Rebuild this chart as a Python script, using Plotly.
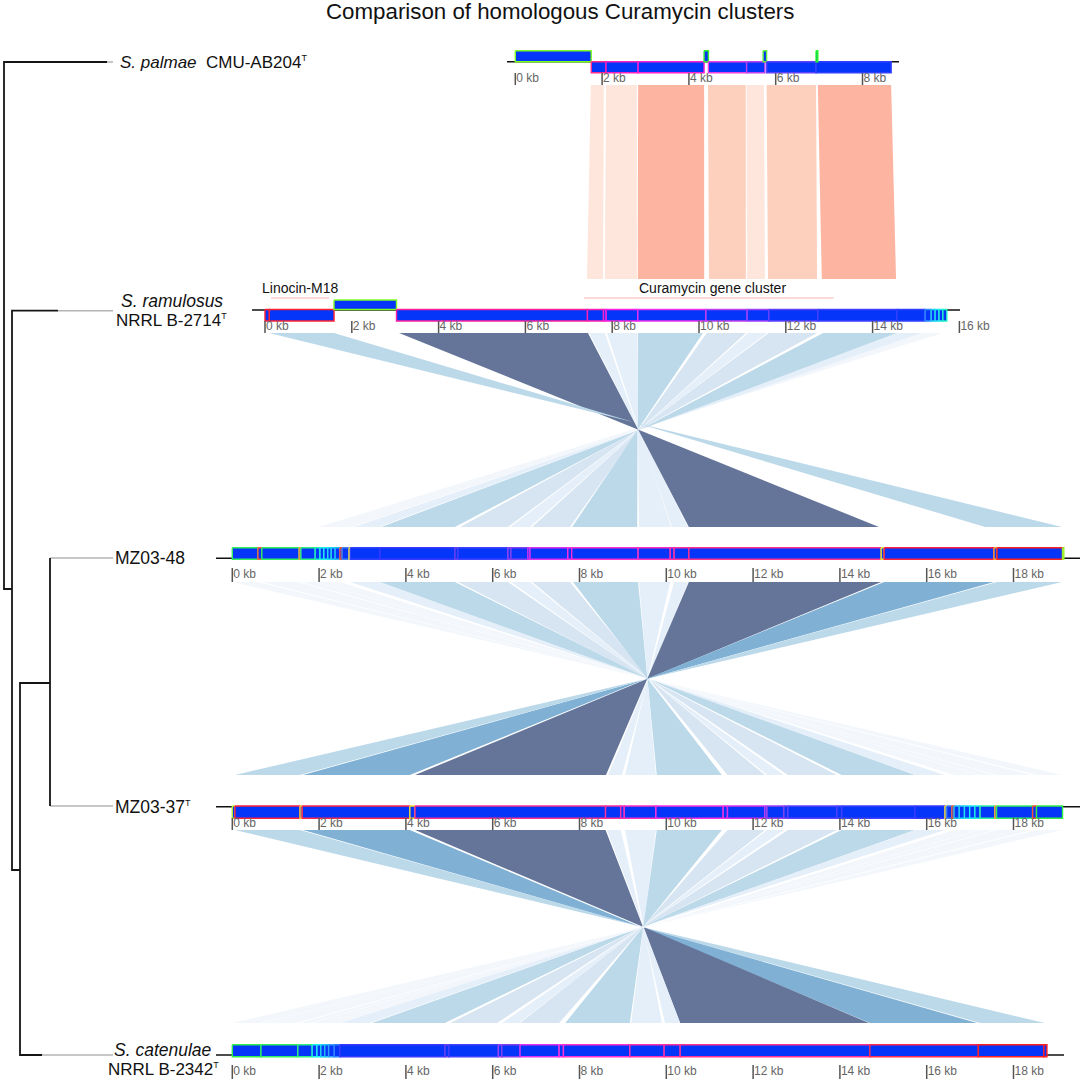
import plotly.graph_objects as go

FONT = "Liberation Sans"
KB_PX = 43.4
GENE_FILL = "#0535f8"

# genes, all in kb along each cluster
PALMAE_START = [0, 1.75, 2.09, 2.83, 4.35, 4.45, 5.33, 5.71, 5.79, 6.93, 6.93]
PALMAE_END = [1.75, 2.09, 2.83, 4.35, 4.45, 5.33, 5.75, 5.79, 6.93, 8.66, 6.97]
PALMAE_ROW = ["up", "down", "down", "down", "up", "down", "down", "up", "down", "down", "up"]
PALMAE_EDGE = ["#7dff20", "#ff2a90", "#ff20c0", "#ff20d0", "#30f030", "#f040e0", "#c040f0", "#60f040",
               "#6040ff", "#3040ff", "#20ff20"]

RAMULOSUS_START = [0, 0.10, 1.59, 3.03, 7.43, 7.80, 7.86, 8.59, 10.16, 11.11, 11.61, 12.74, 14.56,
                   15.21, 15.35, 15.44, 15.53, 15.62]
RAMULOSUS_END = [0.10, 1.59, 3.03, 7.43, 7.80, 7.86, 8.59, 10.16, 11.11, 11.61, 12.74, 14.56, 15.21,
                 15.35, 15.44, 15.53, 15.62, 15.71]
RAMULOSUS_ROW = ["down", "down", "up"] + ["down"] * 15
RAMULOSUS_EDGE = ["#ff2030", "#ff2030", "#7dff20", "#ff20a0", "#ff20b0", "#ff20d0", "#ff20e0", "#f030f0",
                  "#c040f0", "#a040ff", "#6040ff", "#4040ff", "#3040ff", "#3090ff", "#20d0f0", "#20e0f0",
                  "#20f0e0", "#20f0c0"]

MZ48_START = [0, 0.59, 0.68, 1.54, 1.58, 1.91, 2.02, 2.11, 2.20, 2.28, 2.37, 2.48, 2.53, 2.69, 2.72,
              3.40, 5.13, 5.20, 6.35, 6.42, 6.81, 6.86, 7.73, 7.82, 9.35, 10.09, 10.18, 10.52, 14.95,
              15.02, 17.55, 17.62, 19.13]
MZ48_END = [0.59, 0.68, 1.54, 1.58, 1.91, 2.02, 2.11, 2.20, 2.28, 2.37, 2.48, 2.53, 2.69, 2.72, 3.40,
            5.13, 5.20, 6.35, 6.42, 6.81, 6.86, 7.73, 7.82, 9.35, 10.09, 10.18, 10.52, 14.95, 15.02,
            17.55, 17.62, 19.13, 19.16]
MZ48_EDGE = ["#30f060", "#ff6030", "#30f060", "#ffa030", "#30f080", "#20f0c0", "#20f0e0", "#20f0f0", "#20e0f0",
             "#20d0f0", "#20c0f0", "#ff5030", "#4080f0", "#ffe030", "#3040ff", "#3838ff", "#7040f0", "#4040ff",
             "#a040f0", "#8040f0", "#d030f0", "#e030f0", "#ff30e0", "#ff30d0", "#ff30c0", "#ff30b0", "#ff30a0",
             "#ff3090", "#e0f030", "#ff2040", "#ffa030", "#ff2020", "#a0f030"]

MZ37_START = [0, 0.06, 1.56, 1.61, 4.09, 4.21, 8.60, 8.95, 9.03, 9.76, 11.31, 11.41, 12.27, 12.32, 12.71,
              12.80, 13.93, 14.04, 15.73, 16.42, 16.46, 16.58, 16.63, 16.75, 16.87, 16.99, 17.11, 17.23,
              17.57, 17.61, 18.44, 18.53]
MZ37_END = [0.06, 1.56, 1.61, 4.09, 4.21, 8.60, 8.95, 9.03, 9.76, 11.31, 11.41, 12.27, 12.32, 12.71, 12.80,
            13.93, 14.04, 15.73, 16.42, 16.46, 16.58, 16.63, 16.75, 16.87, 16.99, 17.11, 17.23, 17.57,
            17.61, 18.44, 18.53, 19.13]
MZ37_EDGE = ["#b0f030", "#ff2040", "#ffd030", "#ff2850", "#f0e030", "#ff3090", "#ff30a0", "#ff30b0", "#ff30c0",
             "#ff30e0", "#f030e0", "#e030f0", "#c040f0", "#a040f0", "#8040f0", "#6040ff", "#5040ff", "#4040ff",
             "#3838ff", "#ffe030", "#4080f0", "#ff6030", "#20c0f0", "#20d0f0", "#20e0f0", "#20f0f0", "#20f0e0",
             "#30f0a0", "#ffa030", "#30f060", "#ff5030", "#30f040"]

CATENULAE_START = [0, 0.66, 1.51, 1.84, 1.95, 2.04, 2.13, 2.22, 2.35, 2.48, 4.90, 4.99, 6.13, 6.21, 6.63,
                   7.53, 7.63, 9.16, 9.95, 10.32, 14.69, 17.19, 18.70]
CATENULAE_END = [0.66, 1.51, 1.84, 1.95, 2.04, 2.13, 2.22, 2.35, 2.48, 4.90, 4.99, 6.13, 6.21, 6.63, 7.53,
                 7.63, 9.16, 9.95, 10.32, 14.69, 17.19, 18.70, 18.77]
CATENULAE_EDGE = ["#30f050", "#30f060", "#30f080", "#20f0e0", "#20f0f0", "#20d0f0", "#20c0f0", "#30a0ff",
                  "#3080ff", "#3838ff", "#7040f0", "#4040ff", "#a040f0", "#8040f0", "#e030f0", "#ff30e0",
                  "#ff30d0", "#ff30b0", "#ff30a0", "#ff3090", "#ff2850", "#ff2020", "#ff2020"]

# homology links: start/end on the upper and the lower cluster, kb, and shade class
PR_TOP_START = [1.74, 2.09, 2.83, 4.44, 5.33, 5.79, 6.97]
PR_TOP_END = [2.04, 2.80, 4.35, 5.31, 5.73, 6.93, 8.66]
PR_LOW_START = [7.42, 7.83, 8.59, 10.23, 11.11, 11.59, 12.83]
PR_LOW_END = [7.79, 8.57, 10.12, 11.08, 11.52, 12.72, 14.54]
PR_SHADE = [0, 0, 2, 1, 0, 1, 2]

RM_TOP_START = [15.14, 14.56, 12.86, 11.61, 11.13, 10.18, 8.59, 7.88, 7.47, 3.09, 0.09]
RM_TOP_END = [15.62, 15.14, 14.56, 12.72, 11.57, 11.08, 10.09, 8.57, 7.83, 7.44, 1.59]
RM_LOW_START = [2.00, 2.80, 3.43, 5.25, 6.40, 6.91, 7.83, 9.37, 10.13, 10.52, 17.35]
RM_LOW_END = [2.76, 3.38, 5.13, 6.35, 6.86, 7.78, 9.33, 10.11, 10.50, 14.90, 19.12]
RM_SHADE = [0, 1, 3, 2, 1, 2, 3, 1, 1, 5, 3]

MM_TOP_START = [0, 0.68, 1.58, 1.93, 2.71, 3.40, 5.20, 6.42, 6.91, 7.85, 9.37, 10.18, 10.52, 15.02, 17.62]
MM_TOP_END = [0.59, 1.51, 1.91, 2.48, 3.38, 5.13, 6.35, 6.86, 7.78, 9.35, 10.09, 10.50, 14.95, 17.55, 19.12]
MM_LOW_START = [18.53, 17.62, 17.23, 16.63, 15.75, 14.04, 12.80, 12.32, 11.41, 9.78, 9.05, 8.66, 4.21, 1.63, 0.06]
MM_LOW_END = [19.12, 18.42, 17.57, 17.20, 16.42, 15.73, 13.93, 12.71, 12.27, 11.28, 9.76, 8.98, 8.61, 4.09, 1.56]
MM_SHADE = [0, 0, 0, 0, 1, 3, 2, 1, 2, 3, 1, 1, 5, 4, 3]

MC_TOP_START = [0.06, 1.63, 4.21, 8.63, 9.05, 9.78, 11.41, 12.32, 12.80, 14.04, 15.75, 16.63, 17.23, 17.62, 18.53]
MC_TOP_END = [1.56, 4.09, 8.60, 8.95, 9.76, 11.28, 12.27, 12.71, 13.93, 15.73, 16.42, 17.20, 17.57, 18.42, 19.12]
MC_LOW_START = [17.23, 14.69, 10.32, 9.97, 9.19, 7.67, 6.63, 6.21, 5.02, 3.22, 2.48, 1.84, 1.54, 0.68, 0]
MC_LOW_END = [18.72, 17.16, 14.67, 10.32, 9.90, 9.16, 7.53, 6.61, 6.10, 4.90, 3.17, 2.46, 1.81, 1.47, 0.64]
MC_SHADE = [3, 4, 5, 1, 1, 3, 2, 1, 2, 3, 1, 0, 0, 0, 0]

# dendrogram, None breaks the line
TREE_BLACK_X = [107, 4, 4, 12, None, 58, 12, 12, 20, None, 50, 20, 20, 42, None, 50, 50]
TREE_BLACK_Y = [62, 62, 589, 589, None, 310.7, 310.7, 870, 870, None, 683, 683, 1055, 1055, None, 558, 806]
TREE_GREY_X = [107, 113, None, 58, 113, None, 50, 113, None, 50, 113, None, 42, 113]
TREE_GREY_Y = [62, 62, None, 310.7, 310.7, None, 558, 558, None, 806, 806, None, 1055, 1055]

PALMAE_TICKS = [0, 2, 4, 6, 8]
RAMULOSUS_TICKS = [0, 2, 4, 6, 8, 10, 12, 14, 16]
MZ_TICKS = [0, 2, 4, 6, 8, 10, 12, 14, 16, 18]

BLUES = ["#f3f7fc", "#e5eff9", "#d7e5f2", "#bcd9ea", "#80b1d5", "#647599"]
ORANGES = ["#fee6dc", "#fcd0bc", "#fdb4a0"]

PALMAE = dict(origin=515.3, top=50.7, mid=61.7, bottom=72.7, line_y=61.7, tick_top=73, tick_bottom=85,
              line_left=507, line_right=899, link_out=85)
RAMULOSUS = dict(origin=265, top=300, mid=309.5, bottom=321, line_y=310, tick_top=321, tick_bottom=333,
                 line_left=252, line_right=960, link_in=279, link_out=333)
MZ48 = dict(origin=232.3, top=547.7, mid=None, bottom=559.3, line_y=558.3, tick_top=568, tick_bottom=582,
            line_left=216, line_right=1080, link_in=527, link_out=582)
MZ37 = dict(origin=232.3, top=806, mid=None, bottom=818.3, line_y=806.7, tick_top=818, tick_bottom=830,
            line_left=216, line_right=1080, link_in=775, link_out=830)
CATENULAE = dict(origin=232.3, top=1044.7, mid=None, bottom=1056.7, line_y=1055, tick_top=1065,
                 tick_bottom=1079, line_left=216, line_right=1064, link_in=1023)


def to_x(track, kb):
    return track["origin"] + kb * KB_PX


fig = go.Figure()


def add_links(upper, lower, top_start, top_end, low_start, low_end, shades, palette, crossed=True):
    y0, y1 = upper["link_out"], lower["link_in"]
    for ts, te, ls, le, shade in zip(top_start, top_end, low_start, low_end, shades):
        first, second = (ls, le) if crossed else (le, ls)
        xs = [to_x(upper, ts), to_x(upper, te), to_x(lower, first), to_x(lower, second), to_x(upper, ts)]
        fig.add_trace(go.Scatter(x=xs, y=[y0, y0, y1, y1, y0], mode="lines", fill="toself",
                                 fillcolor=palette[shade], line=dict(width=0), hoverinfo="skip"))


def add_track(track, starts, ends, edges, ticks, rows=None):
    # backbone
    fig.add_trace(go.Scatter(x=[track["line_left"], track["line_right"]], y=[track["line_y"]] * 2,
                             mode="lines", line=dict(color="#111111", width=1.6), hoverinfo="skip"))
    for i, (s, e, edge) in enumerate(zip(starts, ends, edges)):
        y0, y1 = track["top"], track["bottom"]
        if rows is not None:
            y0, y1 = (track["top"], track["mid"]) if rows[i] == "up" else (track["mid"], track["bottom"])
        x0, x1 = to_x(track, s), to_x(track, e)
        fig.add_trace(go.Scatter(x=[x0, x1, x1, x0, x0], y=[y0, y0, y1, y1, y0], mode="lines", fill="toself",
                                 fillcolor=GENE_FILL, line=dict(color=edge, width=1.4), hoverinfo="skip"))
    # ruler
    tick_x, tick_y = [], []
    for t in ticks:
        tick_x += [to_x(track, t), to_x(track, t), None]
        tick_y += [track["tick_top"], track["tick_bottom"], None]
    fig.add_trace(go.Scatter(x=tick_x, y=tick_y, mode="lines", line=dict(color="#555555", width=1.5),
                             hoverinfo="skip"))
    fig.add_trace(go.Scatter(x=[to_x(track, t) + 1 for t in ticks],
                             y=[(track["tick_top"] + track["tick_bottom"]) / 2 for t in ticks],
                             mode="text", text=[f"{t} kb" for t in ticks], textposition="middle right",
                             textfont=dict(family=FONT, size=12, color="#666666"), hoverinfo="skip"))


add_links(PALMAE, RAMULOSUS, PR_TOP_START, PR_TOP_END, PR_LOW_START, PR_LOW_END, PR_SHADE, ORANGES, crossed=False)
add_links(RAMULOSUS, MZ48, RM_TOP_START, RM_TOP_END, RM_LOW_START, RM_LOW_END, RM_SHADE, BLUES)
add_links(MZ48, MZ37, MM_TOP_START, MM_TOP_END, MM_LOW_START, MM_LOW_END, MM_SHADE, BLUES)
add_links(MZ37, CATENULAE, MC_TOP_START, MC_TOP_END, MC_LOW_START, MC_LOW_END, MC_SHADE, BLUES)

add_track(PALMAE, PALMAE_START, PALMAE_END, PALMAE_EDGE, PALMAE_TICKS, PALMAE_ROW)
add_track(RAMULOSUS, RAMULOSUS_START, RAMULOSUS_END, RAMULOSUS_EDGE, RAMULOSUS_TICKS, RAMULOSUS_ROW)
add_track(MZ48, MZ48_START, MZ48_END, MZ48_EDGE, MZ_TICKS)
add_track(MZ37, MZ37_START, MZ37_END, MZ37_EDGE, MZ_TICKS)
add_track(CATENULAE, CATENULAE_START, CATENULAE_END, CATENULAE_EDGE, MZ_TICKS)

fig.add_trace(go.Scatter(x=TREE_GREY_X, y=TREE_GREY_Y, mode="lines", line=dict(color="#b5b5b5", width=1.5),
                         hoverinfo="skip"))
fig.add_trace(go.Scatter(x=TREE_BLACK_X, y=TREE_BLACK_Y, mode="lines", line=dict(color="#151515", width=1.8),
                         hoverinfo="skip"))

# brackets over Linocin-M18 and the Curamycin cluster
for s, e in [(0.14, 1.48), (7.35, 13.1)]:
    fig.add_trace(go.Scatter(x=[to_x(RAMULOSUS, s), to_x(RAMULOSUS, e)], y=[298, 298], mode="lines",
                             line=dict(color="#fbb5aa", width=1), hoverinfo="skip"))


def label(x, y, text, size=17, anchor="left", color="#111111"):
    fig.add_annotation(x=x, y=y, text=text, showarrow=False, xanchor=anchor, yanchor="middle",
                       font=dict(family=FONT, size=size, color=color))


TYPE_MARK = '<sup><span style="font-size:9px">T</span></sup>'

label(560, 11, "Comparison of homologous Curamycin clusters", size=22.3, anchor="center")
label(118, 62, "<i>S. palmae</i>  CMU-AB204" + TYPE_MARK)
label(172, 301, "<i>S. ramulosus</i>", size=17.5, anchor="center")
label(171, 320, "NRRL B-2714" + TYPE_MARK, anchor="center")
label(113, 558, "MZ03-48", size=17.5)
label(113, 807, "MZ03-37" + TYPE_MARK, size=17.5)
label(163, 1050, "<i>S. catenulae</i>", size=17.5, anchor="center")
label(163, 1069, "NRRL B-2342" + TYPE_MARK, anchor="center")
label(300, 288, "Linocin-M18", size=14, anchor="center")
label(712, 288, "Curamycin gene cluster", size=14, anchor="center")

fig.update_layout(
    width=1084,
    height=1083,
    margin=dict(l=0, r=0, t=0, b=0),
    paper_bgcolor="white",
    plot_bgcolor="white",
    showlegend=False,
    hovermode=False,
    xaxis=dict(range=[0, 1084], visible=False, fixedrange=True),
    yaxis=dict(range=[1083, 0], visible=False, fixedrange=True),
)

fig.write_html("out.html", config=dict(displayModeBar=False), post_script="document.body.style.margin='0';")
